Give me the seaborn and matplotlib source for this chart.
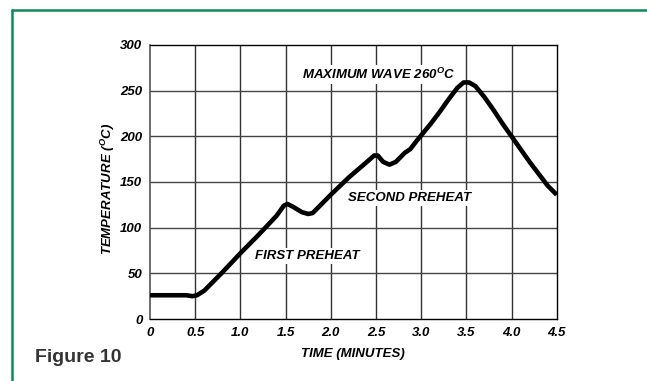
import matplotlib
matplotlib.use("Agg")
import matplotlib.pyplot as plt
import seaborn as sns
import pandas as pd
from matplotlib.lines import Line2D

# data
time_min = [0.0, 0.2, 0.4, 0.47, 0.52, 0.6, 0.7, 0.8, 1.0, 1.2, 1.4, 1.48, 1.52,
            1.58, 1.68, 1.75, 1.8, 1.9, 2.0, 2.2, 2.4, 2.48, 2.52, 2.58, 2.65,
            2.72, 2.78, 2.82, 2.88, 2.95, 3.0, 3.1, 3.2, 3.3, 3.4, 3.47, 3.53,
            3.6, 3.7, 3.8, 3.9, 4.0, 4.1, 4.2, 4.3, 4.4, 4.5]
temp_c = [26, 26, 26, 25, 26, 31, 41, 51, 72, 92, 113, 124, 126,
          123, 117, 115, 116, 126, 136, 155, 172, 179, 179, 172, 169,
          172, 178, 182, 186, 195, 201, 213, 226, 240, 253, 259, 259,
          255, 243, 229, 214, 200, 186, 172, 159, 146, 136]
x_ticks = [0, 0.5, 1.0, 1.5, 2.0, 2.5, 3.0, 3.5, 4.0, 4.5]
x_tick_labels = ["0", "0.5", "1.0", "1.5", "2.0", "2.5", "3.0", "3.5", "4.0", "4.5"]
y_ticks = [0, 50, 100, 150, 200, 250, 300]
y_tick_labels = ["0", "50", "100", "150", "200", "250", "300"]

df = pd.DataFrame({"time": time_min, "temp": temp_c})

sns.set_style("white")
plt.rcParams["font.family"] = ["Liberation Sans", "DejaVu Sans"]
plt.rcParams["mathtext.fontset"] = "custom"
plt.rcParams["mathtext.rm"] = "Liberation Sans:bold:italic"
plt.rcParams["mathtext.it"] = "Liberation Sans:bold:italic"
plt.rcParams["mathtext.bf"] = "Liberation Sans:bold:italic"

fig = plt.figure(figsize=(6.47, 3.81), dpi=100)
ax = fig.add_axes([150 / 647, 1 - 319 / 381, 406.7 / 647, 274 / 381])

sns.lineplot(data=df, x="time", y="temp", ax=ax, color="black", linewidth=3.3,
             sort=False, estimator=None, zorder=3)
ax.lines[0].set_solid_joinstyle("round")
ax.lines[0].set_solid_capstyle("butt")

ax.set_xlim(0, 4.5)
ax.set_ylim(0, 300)
ax.set_xticks(x_ticks)
ax.set_xticklabels(x_tick_labels)
ax.set_yticks(y_ticks)
ax.set_yticklabels(y_tick_labels)
for v in x_ticks[1:-1]:
    ax.axvline(v, color="#333333", lw=1.0, zorder=1)
for v in y_ticks[1:-1]:
    ax.axhline(v, color="#444444", lw=1.0, zorder=1)

for s in ["top", "right", "bottom"]:
    ax.spines[s].set_color("black")
    ax.spines[s].set_linewidth(1.0)
ax.spines["left"].set_color("#555555")
ax.spines["left"].set_linewidth(1.2)

tick_font = dict(fontsize=9.5, fontweight="bold", fontstyle="italic", color="black")
ax.tick_params(axis="both", length=2.5, width=0.8, color="#444444", pad=3)
for lab in ax.get_xticklabels() + ax.get_yticklabels():
    lab.set_fontsize(9.5)
    lab.set_fontweight("bold")
    lab.set_fontstyle("italic")
    lab.set_color("black")

ax.set_xlabel("TIME (MINUTES)", labelpad=7, **tick_font)
ax.set_ylabel(r"TEMPERATURE ($^{\mathrm{O}}$C)", **tick_font)
ax.yaxis.set_label_coords(-0.08, 0.474)

box = dict(facecolor="white", edgecolor="none", pad=1.5)
ax.text(1.68, 268, r"MAXIMUM WAVE 260$^{\mathrm{O}}$C", ha="left", va="center",
        bbox=box, zorder=2, **tick_font)
ax.text(2.19, 132.5, "SECOND PREHEAT", ha="left", va="center", bbox=box,
        zorder=2, **tick_font)
ax.text(1.16, 69, "FIRST PREHEAT", ha="left", va="center", bbox=box,
        zorder=2, **tick_font)

fig.text(35 / 647, 1 - 357 / 381, "Figure 10", fontsize=14, fontweight="bold",
         color="#333333", ha="left", va="center")

green = "#12885a"
fig.add_artist(Line2D([12 / 647, 12 / 647], [0, 1 - 10 / 381], transform=fig.transFigure,
                      color=green, lw=1.8))
fig.add_artist(Line2D([12 / 647, 1], [1 - 10 / 381, 1 - 10 / 381], transform=fig.transFigure,
                      color=green, lw=1.8))

fig.savefig("out.png", dpi=100, facecolor="white")
